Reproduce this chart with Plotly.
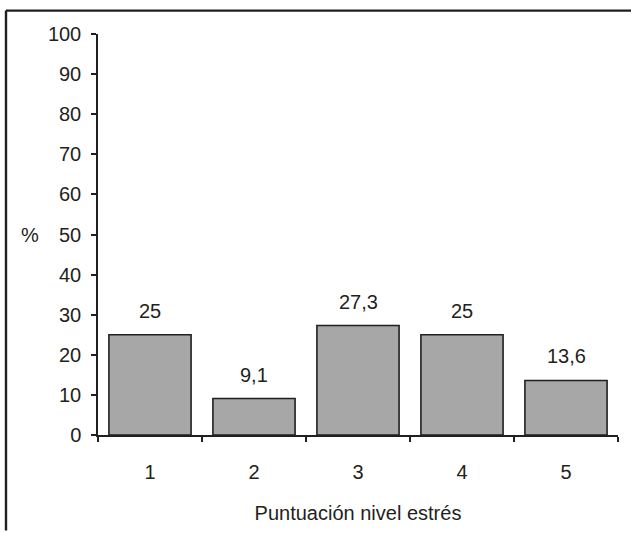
import plotly.graph_objects as go

# Stress-level score distribution (%)
categories = ["1", "2", "3", "4", "5"]
percentages = [25, 9.1, 27.3, 25, 13.6]
y_ticks = [0, 10, 20, 30, 40, 50, 60, 70, 80, 90, 100]

FONT = "Liberation Sans, Arial, sans-serif"
INK = "#231f20"
FS = 20

fig = go.Figure()
fig.add_trace(go.Bar(
    x=categories,
    y=percentages,
    marker=dict(color="#a7a7a7", line=dict(color=INK, width=1.6)),
    width=0.79,
    hoverinfo="skip",
))

# Value labels with decimal comma above each bar
for idx, val in enumerate(percentages):
    txt = f"{val:g}".replace(".", ",")
    fig.add_annotation(x=idx, y=val, text=txt, showarrow=False,
                       yanchor="middle", yshift=24,
                       font=dict(family=FONT, size=FS, color=INK))

# Horizontal "%" axis label
fig.add_annotation(xref="paper", yref="y", x=(30 - 98) / 520, y=50, text="%",
                   showarrow=False, xanchor="center", yanchor="middle",
                   font=dict(family=FONT, size=FS, color=INK))

# Outer frame: top and left edges
top = (437 - 10.5) / 403
left = (6 - 98) / 520
fig.add_shape(type="line", xref="paper", yref="paper",
              x0=left, x1=(631 - 98) / 520, y0=top, y1=top,
              line=dict(color=INK, width=2.4))
fig.add_shape(type="line", xref="paper", yref="paper",
              x0=left, x1=left, y0=top, y1=(437 - 533) / 403,
              line=dict(color=INK, width=2.4))

fig.update_layout(
    width=631, height=533,
    margin=dict(l=98, r=13, t=34, b=96),
    paper_bgcolor="white", plot_bgcolor="white",
    showlegend=False,
    font=dict(family=FONT, size=FS, color=INK),
    xaxis=dict(
        type="category", range=[-0.5, 4.5],
        showline=True, linecolor=INK, linewidth=1.5,
        ticks="outside", ticklen=5, tickcolor=INK, tickwidth=1.5,
        tickson="boundaries", showgrid=False, zeroline=False,
        ticklabelstandoff=18,
        title=dict(text="Puntuación nivel estrés", standoff=24,
                   font=dict(family=FONT, size=FS, color=INK)),
    ),
    yaxis=dict(
        range=[0, 100], tickvals=y_ticks,
        showline=True, linecolor=INK, linewidth=1.5,
        ticks="outside", ticklen=5, tickcolor=INK, tickwidth=1.5,
        showgrid=False, zeroline=False,
        ticklabelstandoff=6,
    ),
)

fig.write_html("out.html")
